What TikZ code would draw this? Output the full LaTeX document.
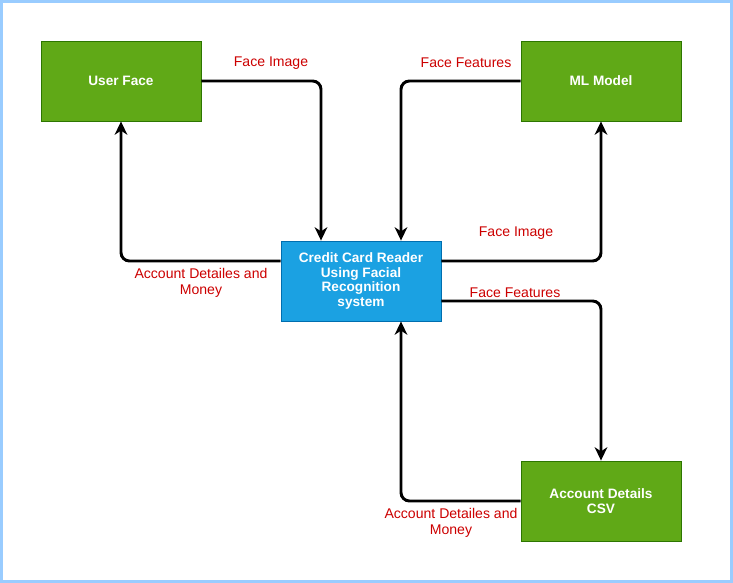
\documentclass[tikz,border=0pt]{standalone}
\usepackage{fontspec}
\setmainfont{Liberation Sans}
\usetikzlibrary{arrows.meta}

\definecolor{boxgreen}{HTML}{60A917}
\definecolor{edgegreen}{HTML}{2D7600}
\definecolor{boxblue}{HTML}{1BA1E2}
\definecolor{edgeblue}{HTML}{006EAF}
\definecolor{labelred}{HTML}{CC0000}
\definecolor{frameblue}{HTML}{99CCFF}

\tikzset{
  greenbox/.style={draw=edgegreen,fill=boxgreen,text=white,font=\fontsize{9.7}{10.6}\selectfont\bfseries,
    minimum width=160*0.025cm,minimum height=80*0.025cm,align=center,line width=0.6pt},
  bluebox/.style={greenbox,draw=edgeblue,fill=boxblue},
  flow/.style={line width=2.1pt,rounded corners=6pt,-{Stealth[length=9.5pt,width=9pt,inset=3pt]}},
  flowlabel/.style={text=labelred,font=\fontsize{10}{11.2}\selectfont,align=center}
}

\begin{document}
\begin{tikzpicture}[x=0.025cm,y=-0.025cm]

% Frame
\useasboundingbox (0,0) rectangle (733,583);
\draw[frameblue,line width=2.2pt] (1.5,1.5) rectangle (731.5,581.5);

% Define boxes
\node[greenbox] (face) at (121,81) {User Face};
\node[greenbox] (model) at (601,81) {ML Model};
\node[bluebox] (reader) at (361,281) {Credit Card Reader\\Using Facial\\Recognition\\system};
\node[greenbox] (csv) at (601,501) {Account Details\\CSV};

% Draw flows
\draw[flow] (face.east) -| ([xshift=-40*0.025cm]reader.north);
\draw[flow] (model.west) -| ([xshift=40*0.025cm]reader.north);
\draw[flow] ([yshift=20*0.025cm]reader.east) -| (model.south);
\draw[flow] ([yshift=-20*0.025cm]reader.east) -| (csv.north);
\draw[flow] ([yshift=20*0.025cm]reader.west) -| (face.south);
\draw[flow] (csv.west) -| ([xshift=40*0.025cm]reader.south);

% Add labels to flows
\node[flowlabel] (lbl1) at (271,63) {Face Image};
\node[flowlabel] (lbl2) at (466,63) {Face Features};
\node[flowlabel] (lbl3) at (516,233) {Face Image};
\node[flowlabel] (lbl4) at (515,293) {Face Features};
\node[flowlabel] (lbl5) at (201,283) {Account Detailes and\\Money};
\node[flowlabel] (lbl6) at (451,523) {Account Detailes and\\Money};

\end{tikzpicture}
\end{document}
